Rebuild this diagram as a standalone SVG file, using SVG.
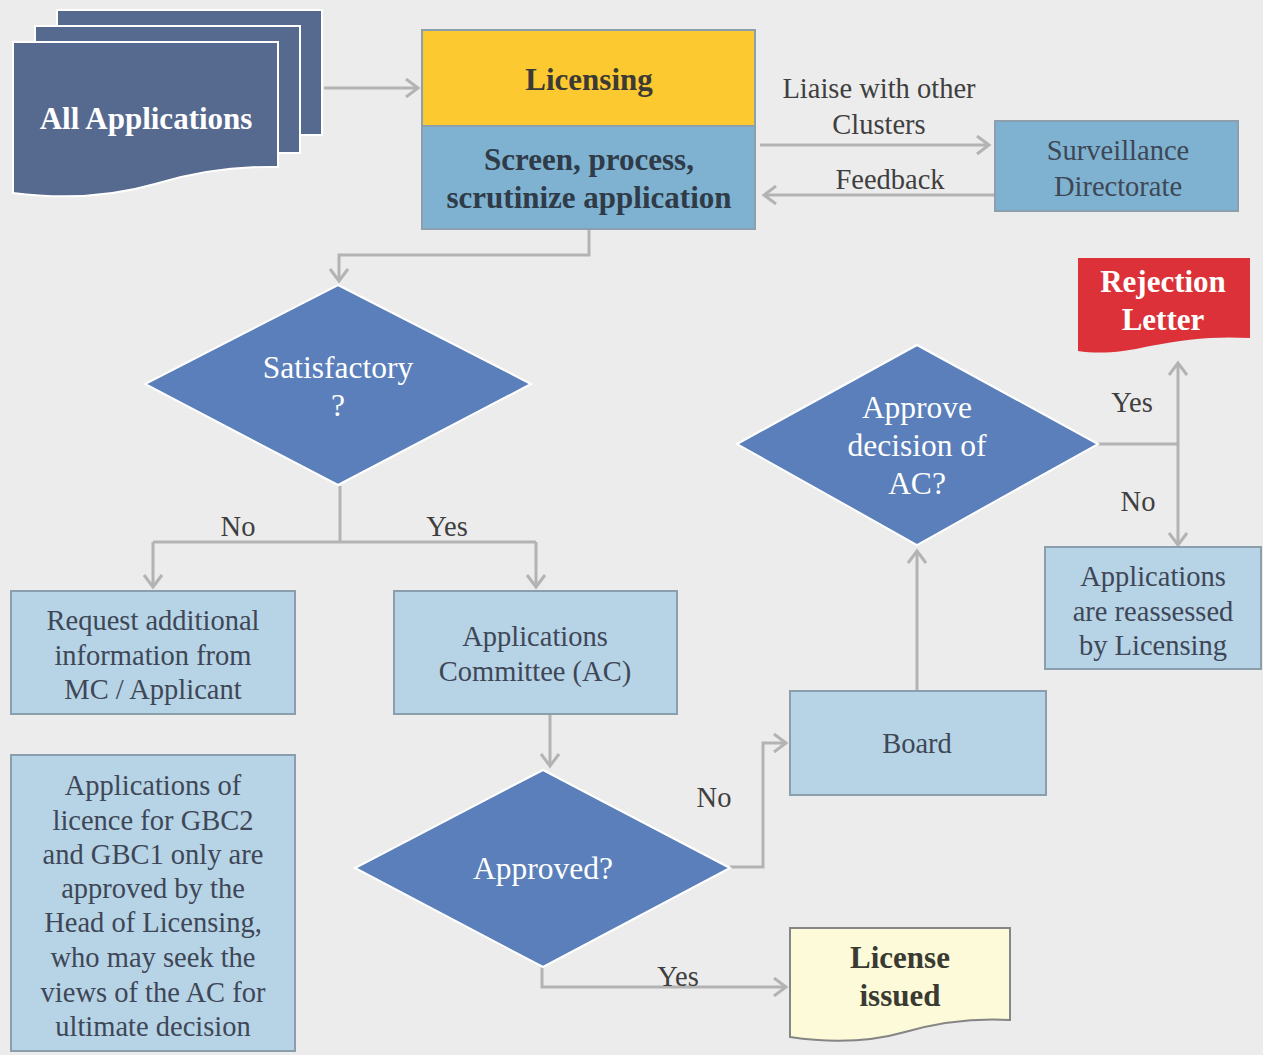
<svg xmlns="http://www.w3.org/2000/svg" width="1263" height="1055" viewBox="0 0 1263 1055" font-family="'Liberation Serif', 'Times New Roman', serif">
  <defs>
    <marker id="arrow" markerUnits="userSpaceOnUse" markerWidth="18" markerHeight="20" refX="13" refY="10" orient="auto">
      <path d="M1,1 L13,10 L1,19" fill="none" stroke="#b3b3b3" stroke-width="3"/>
    </marker>
    <style>
      text { font-family: "Liberation Serif", "Times New Roman", serif; text-anchor: middle; dominant-baseline: central; }
      .doc { fill: #56698f; stroke: #ffffff; stroke-width: 2; }
      .proc { fill: #7fb2d0; stroke: #8b9fae; stroke-width: 2; }
      .box { fill: #b7d3e6; stroke: #8a9eac; stroke-width: 2; }
      .dia { fill: #5b7fba; stroke: #ffffff; stroke-width: 2; }
      .conn { fill: none; stroke: #b3b3b3; stroke-width: 3; }
      .lbl { font-size: 28.5px; fill: #3f3f3f; }
      .boxtxt { font-size: 28.5px; fill: #3e4756; }
      .diatxt { font-size: 31.5px; fill: #ffffff; }
      .bold { font-weight: bold; font-size: 31px; }
    </style>
  </defs>

  <rect x="0" y="0" width="1263" height="1055" fill="#ececec"/>

  <!-- connectors -->
  <g id="connectors">
    <path class="conn" d="M324,88 H418" marker-end="url(#arrow)"/>
    <path class="conn" d="M760,145 H989" marker-end="url(#arrow)"/>
    <path class="conn" d="M995,195 H764" marker-end="url(#arrow)"/>
    <path class="conn" d="M589,230 V255 H339 V281" marker-end="url(#arrow)"/>
    <path class="conn" d="M340,486 V542"/>
    <path class="conn" d="M153,542 H536"/>
    <path class="conn" d="M153,542 V587" marker-end="url(#arrow)"/>
    <path class="conn" d="M536,542 V587" marker-end="url(#arrow)"/>
    <path class="conn" d="M550,715 V766" marker-end="url(#arrow)"/>
    <path class="conn" d="M730,867 H763 V743 H786" marker-end="url(#arrow)"/>
    <path class="conn" d="M542,967 V987 H786" marker-end="url(#arrow)"/>
    <path class="conn" d="M917,691 V551" marker-end="url(#arrow)"/>
    <path class="conn" d="M1098,444 H1178"/>
    <path class="conn" d="M1178,444 V363" marker-end="url(#arrow)"/>
    <path class="conn" d="M1178,444 V545" marker-end="url(#arrow)"/>
    <text class="lbl" x="879" y="88">Liaise with other</text>
    <text class="lbl" x="879" y="124">Clusters</text>
    <text class="lbl" x="890" y="179">Feedback</text>
    <text class="lbl" x="238" y="526">No</text>
    <text class="lbl" x="447" y="526">Yes</text>
    <text class="lbl" x="714" y="797">No</text>
    <text class="lbl" x="678" y="976">Yes</text>
    <text class="lbl" x="1132" y="402">Yes</text>
    <text class="lbl" x="1138" y="501">No</text>
  </g>

  <!-- stacked documents -->
  <g id="all-applications">
    <rect class="doc" x="57" y="10" width="265" height="125"/>
    <rect class="doc" x="35" y="26" width="265" height="127"/>
    <path class="doc" d="M13,42 H278 V167 C235,166 195,172 155,184 C110,197 60,199 13,193 Z"/>
    <text class="bold" x="146" y="118" fill="#ffffff">All Applications</text>
  </g>

  <g id="licensing">
    <rect x="422" y="30" width="333" height="96" fill="#fdc930" stroke="#8b9fae" stroke-width="2"/>
    <rect class="proc" x="422" y="126" width="333" height="103"/>
    <text class="bold" x="589" y="79" fill="#3b3a36">Licensing</text>
    <text class="bold" x="589" y="159" fill="#2f3b48">Screen, process,</text>
    <text class="bold" x="589" y="197" fill="#2f3b48">scrutinize application</text>
  </g>

  <g id="surveillance">
    <rect class="proc" x="995" y="121" width="243" height="90"/>
    <text class="boxtxt" x="1118" y="150">Surveillance</text>
    <text class="boxtxt" x="1118" y="186">Directorate</text>
  </g>

  <g id="satisfactory">
    <polygon class="dia" points="338,285 531,384 338,485 145,384"/>
    <text class="diatxt" x="338" y="367">Satisfactory</text>
    <text class="diatxt" x="338" y="405">?</text>
  </g>

  <g id="request-info">
    <rect class="box" x="11" y="591" width="284" height="123"/>
    <text class="boxtxt" x="153" y="620">Request additional</text>
    <text class="boxtxt" x="153" y="655">information from</text>
    <text class="boxtxt" x="153" y="689">MC / Applicant</text>
  </g>

  <g id="applications-committee">
    <rect class="box" x="394" y="591" width="283" height="123"/>
    <text class="boxtxt" x="535" y="636">Applications</text>
    <text class="boxtxt" x="535" y="671">Committee (AC)</text>
  </g>

  <g id="note">
    <rect class="box" x="11" y="755" width="284" height="296"/>
    <text class="boxtxt" x="153" y="785">Applications of</text>
    <text class="boxtxt" x="153" y="820">licence for GBC2</text>
    <text class="boxtxt" x="153" y="854">and GBC1 only are</text>
    <text class="boxtxt" x="153" y="888">approved by the</text>
    <text class="boxtxt" x="153" y="922">Head of Licensing,</text>
    <text class="boxtxt" x="153" y="957">who may seek the</text>
    <text class="boxtxt" x="153" y="992">views of the AC for</text>
    <text class="boxtxt" x="153" y="1026">ultimate decision</text>
  </g>

  <g id="approved">
    <polygon class="dia" points="543,770 730,868 543,967 355,868"/>
    <text class="diatxt" x="543" y="868">Approved?</text>
  </g>

  <g id="board">
    <rect class="box" x="790" y="691" width="256" height="104"/>
    <text class="boxtxt" x="917" y="743" font-size="31">Board</text>
  </g>

  <g id="license-issued">
    <path d="M790,928 H1010 V1020 C975,1018 940,1022 905,1032 C870,1042 830,1043 790,1037 Z" fill="#fcfad8" stroke="#858585" stroke-width="2"/>
    <text class="bold" x="900" y="957" fill="#3a3a33">License</text>
    <text class="bold" x="900" y="995" fill="#3a3a33">issued</text>
  </g>

  <g id="approve-decision">
    <polygon class="dia" points="917,345 1098,444 917,545 737,444"/>
    <text class="diatxt" x="917" y="407">Approve</text>
    <text class="diatxt" x="917" y="445">decision of</text>
    <text class="diatxt" x="917" y="483">AC?</text>
  </g>

  <g id="rejection-letter">
    <path d="M1078,258 H1250 V338 C1215,336 1185,339 1150,346 C1120,353 1098,354 1078,351 Z" fill="#dc3139"/>
    <text class="bold" x="1163" y="281" fill="#ffffff">Rejection</text>
    <text class="bold" x="1163" y="319" fill="#ffffff">Letter</text>
  </g>

  <g id="reassessed">
    <rect class="box" x="1045" y="547" width="216" height="122"/>
    <text class="boxtxt" x="1153" y="576">Applications</text>
    <text class="boxtxt" x="1153" y="611">are reassessed</text>
    <text class="boxtxt" x="1153" y="645">by Licensing</text>
  </g>
</svg>
